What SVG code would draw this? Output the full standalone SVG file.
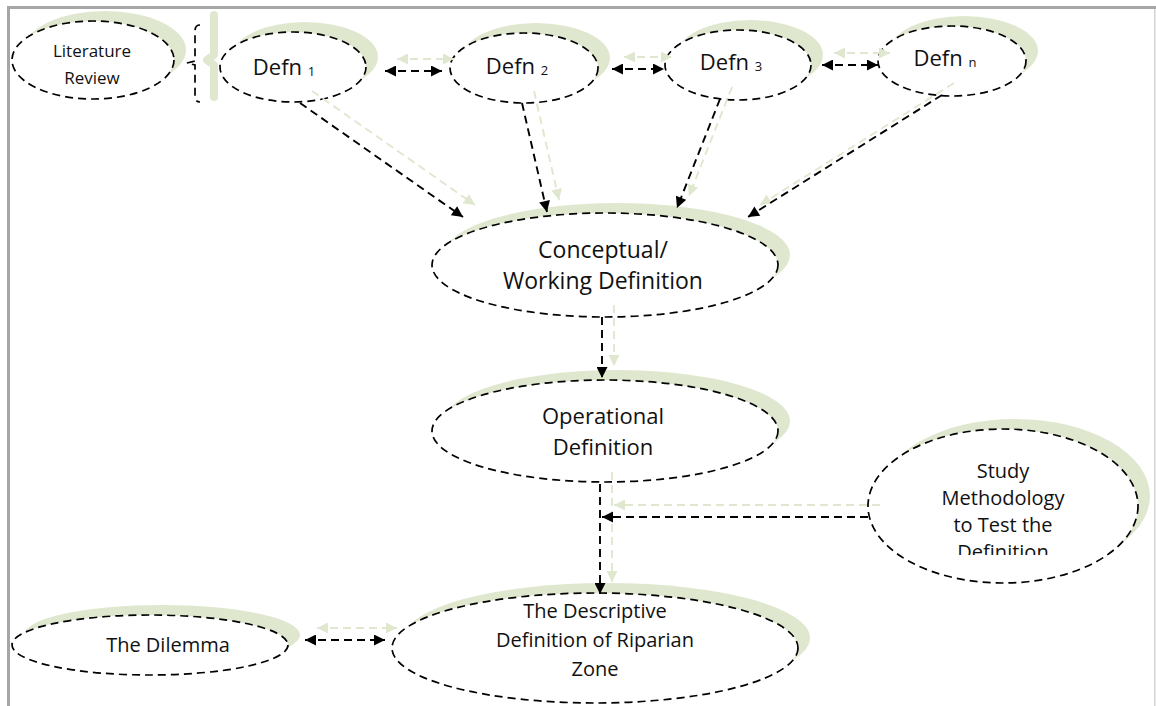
<svg xmlns="http://www.w3.org/2000/svg" width="1156" height="706" viewBox="0 0 1156 706">
<defs>
<style>
.sh{fill:#dfe8cf;stroke:none}
.nd{fill:#fff;stroke:#000;stroke-width:1.7;stroke-dasharray:8 5}
.t{font-family:"Open Sans","Noto Sans",sans-serif;font-size:22px;fill:#111;text-anchor:middle}
.t23{font-size:23px}
.t20{font-size:20px}
.ts{font-family:"Open Sans","Noto Sans",sans-serif;font-size:17px;fill:#111;text-anchor:middle}
.sub{font-size:13px}
.cb{fill:none;stroke:#000;stroke-width:1.9;stroke-dasharray:8 5}
.cg{fill:none;stroke:#dfe8cf;stroke-width:1.9;stroke-dasharray:8 5}
</style>
<marker id="ab" viewBox="0 0 10 10" refX="10" refY="5" markerWidth="13" markerHeight="11" markerUnits="userSpaceOnUse" orient="auto-start-reverse"><path d="M0,0 L10,5 L0,10 z" fill="#000"/></marker>
<marker id="ag" viewBox="0 0 10 10" refX="10" refY="5" markerWidth="13" markerHeight="11" markerUnits="userSpaceOnUse" orient="auto-start-reverse"><path d="M0,0 L10,5 L0,10 z" fill="#dfe8cf"/></marker>
<clipPath id="clipStudy"><rect x="860" y="420" width="300" height="135"/></clipPath>
</defs>
<rect width="1156" height="706" fill="#fff"/>
<g id="frame">
<rect x="8" y="6" width="1148" height="3" fill="#a6a6a6"/>
<rect x="7" y="6" width="3" height="700" fill="#a6a6a6"/>
<rect x="1154" y="9" width="1.5" height="697" fill="#d4d4d4"/>
</g>
<g id="literature-review">
<ellipse class="sh" cx="105" cy="50" rx="81" ry="39"/>
<ellipse class="nd" cx="93" cy="60" rx="81" ry="39"/>
<text class="ts" x="92" y="57">Literature</text>
<text class="ts" x="92" y="84">Review</text>
</g>
<g id="brace">
<path d="M214,15 L214,55 L207,60 L214,65 L214,97" fill="none" stroke="#dfe8cf" stroke-width="8" stroke-linecap="round" stroke-linejoin="round"/>
<path d="M200,25 Q195,25 195,31 L195,61 L187,63 L195,65 L195,96 Q195,102 200,102" fill="none" stroke="#000" stroke-width="1.7" stroke-dasharray="8 5"/>
</g>
<g id="defn1">
<ellipse class="sh" cx="305" cy="57" rx="73" ry="35"/>
<ellipse class="nd" cx="293" cy="67" rx="73" ry="35"/>
<text class="t" x="284" y="75">Defn <tspan class="sub" dy="1">1</tspan></text>
</g>
<g id="defn2">
<ellipse class="sh" cx="536" cy="58" rx="74" ry="35"/>
<ellipse class="nd" cx="524" cy="68" rx="74" ry="35"/>
<text class="t" x="517" y="74">Defn <tspan class="sub" dy="1">2</tspan></text>
</g>
<g id="defn3">
<ellipse class="sh" cx="750" cy="55" rx="73" ry="35"/>
<ellipse class="nd" cx="738" cy="65" rx="73" ry="35"/>
<text class="t" x="731" y="70">Defn <tspan class="sub" dy="1">3</tspan></text>
</g>
<g id="defnn">
<ellipse class="sh" cx="964" cy="51" rx="74" ry="35"/>
<ellipse class="nd" cx="952" cy="61" rx="74" ry="35"/>
<text class="t" x="945" y="66">Defn <tspan class="sub" dy="1">n</tspan></text>
</g>
<g id="conceptual">
<ellipse class="sh" cx="617" cy="255" rx="173" ry="52"/>
<ellipse class="nd" cx="605" cy="265" rx="173" ry="52"/>
<text class="t t23" x="603" y="258">Conceptual/</text>
<text class="t t23" x="603" y="289">Working Definition</text>
</g>
<g id="operational">
<ellipse class="sh" cx="617" cy="421" rx="173" ry="51"/>
<ellipse class="nd" cx="605" cy="431" rx="173" ry="51"/>
<text class="t" x="603" y="424">Operational</text>
<text class="t" x="603" y="455">Definition</text>
</g>
<g id="study">
<ellipse class="sh" cx="1015" cy="496" rx="135" ry="77"/>
<ellipse class="nd" cx="1003" cy="506" rx="135" ry="77"/>
<g clip-path="url(#clipStudy)">
<text class="t t20" x="1003" y="478">Study</text>
<text class="t t20" x="1003" y="505">Methodology</text>
<text class="t t20" x="1003" y="532">to Test the</text>
<text class="t t20" x="1003" y="559">Definition</text>
</g>
</g>
<g id="dilemma">
<ellipse class="sh" cx="162" cy="635" rx="138" ry="30"/>
<ellipse class="nd" cx="150" cy="645" rx="138" ry="30"/>
<text class="t t20" x="168" y="652">The Dilemma</text>
</g>
<g id="descriptive">
<ellipse class="sh" cx="607" cy="638" rx="203" ry="55"/>
<ellipse class="nd" cx="595" cy="648" rx="203" ry="55"/>
<text class="t t20" x="595" y="618">The Descriptive</text>
<text class="t t20" x="595" y="647">Definition of Riparian</text>
<text class="t t20" x="595" y="676">Zone</text>
</g>
<g id="connectors">
<g id="shadow-connectors">
<path class="cg" d="M312,91 L475,205" marker-end="url(#ag)"/>
<path class="cg" d="M534,91 L559,200" marker-end="url(#ag)"/>
<path class="cg" d="M732,87 L689,196" marker-end="url(#ag)"/>
<path class="cg" d="M954,83 L760,205" marker-end="url(#ag)"/>
<path class="cg" d="M614,305 L614,366" marker-end="url(#ag)"/>
<path class="cg" d="M612,472 L612,582" marker-end="url(#ag)"/>
<path class="cg" d="M880,505 L614,505" marker-end="url(#ag)"/>
<path class="cg" d="M397,59 L454,59" marker-start="url(#ag)" marker-end="url(#ag)"/>
<path class="cg" d="M624,57 L672,57" marker-start="url(#ag)" marker-end="url(#ag)"/>
<path class="cg" d="M834,53 L890,53" marker-start="url(#ag)" marker-end="url(#ag)"/>
<path class="cg" d="M317,628 L397,628" marker-start="url(#ag)" marker-end="url(#ag)"/>
</g>
<g id="black-connectors">
<path class="cb" d="M300,103 L463,217" marker-end="url(#ab)"/>
<path class="cb" d="M522,103 L547,212" marker-end="url(#ab)"/>
<path class="cb" d="M720,99 L677,208" marker-end="url(#ab)"/>
<path class="cb" d="M942,95 L748,217" marker-end="url(#ab)"/>
<path class="cb" d="M602,317 L602,378" marker-end="url(#ab)"/>
<path class="cb" d="M600,484 L600,594" marker-end="url(#ab)"/>
<path class="cb" d="M868,517 L602,517" marker-end="url(#ab)"/>
<path class="cb" d="M385,71 L442,71" marker-start="url(#ab)" marker-end="url(#ab)"/>
<path class="cb" d="M612,69 L664,69" marker-start="url(#ab)" marker-end="url(#ab)"/>
<path class="cb" d="M822,65 L878,65" marker-start="url(#ab)" marker-end="url(#ab)"/>
<path class="cb" d="M305,640 L385,640" marker-start="url(#ab)" marker-end="url(#ab)"/>
</g>
</g>
</svg>
